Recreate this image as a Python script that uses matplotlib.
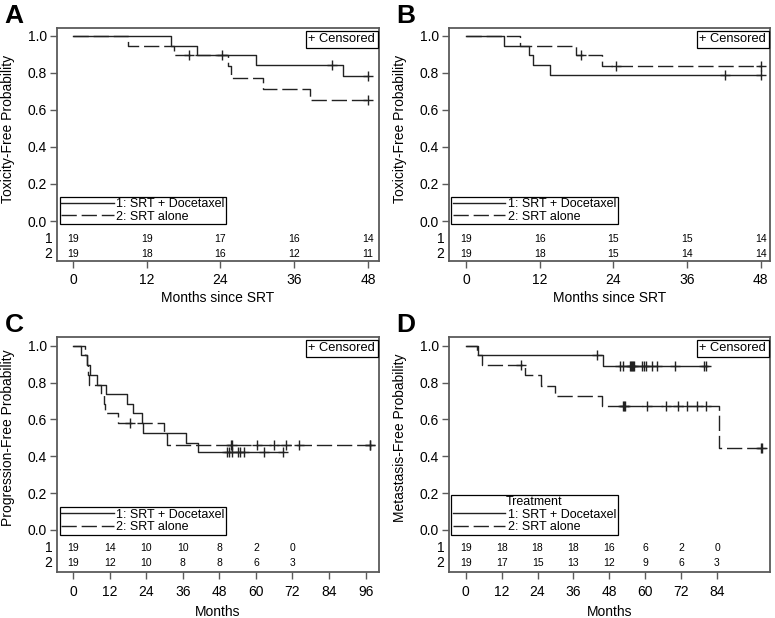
import numpy as np
import matplotlib
matplotlib.use("Agg")
import matplotlib.pyplot as plt

plt.rcParams['font.family'] = ['Liberation Sans', 'DejaVu Sans']

# ---- panel A : toxicity-free, months since SRT
a_t1 = [0, 16.0, 20.2, 29.8, 43.9]
a_s1 = [1.0, 0.947, 0.895, 0.842, 0.786]
a_c1 = [42.1, 48.0]
a_t2 = [0, 8.9, 16.4, 25.2, 25.8, 30.9, 38.6]
a_s2 = [1.0, 0.947, 0.895, 0.835, 0.775, 0.715, 0.655]
a_c2 = [18.9, 24.3, 48.0]
a_end = [48.0, 48.0]
a_risk_x = [0, 12, 24, 36, 48]
a_risk1 = [19, 19, 17, 16, 14]
a_risk2 = [19, 18, 16, 12, 11]

# ---- panel B : toxicity-free, months since SRT
b_t1 = [0, 6.2, 10.3, 11.0, 13.7]
b_s1 = [1.0, 0.947, 0.895, 0.842, 0.789]
b_c1 = [42.2, 48.0]
b_t2 = [0, 8.8, 18.0, 22.1]
b_s2 = [1.0, 0.947, 0.895, 0.838]
b_c2 = [18.8, 24.5, 48.0]
b_end = [48.0, 48.0]
b_risk_x = [0, 12, 24, 36, 48]
b_risk1 = [19, 16, 15, 15, 14]
b_risk2 = [19, 18, 15, 14, 14]

# ---- panel C : progression-free
c_t1 = [0, 2.5, 4.6, 5.4, 7.7, 10.7, 17.7, 19.7, 22.6, 23.1, 37.2, 41.0]
c_s1 = [1.0, 0.947, 0.895, 0.842, 0.789, 0.737, 0.684, 0.632, 0.579, 0.526, 0.474, 0.421]
c_c1 = [50.4, 51.3, 52.2, 54.0, 54.7, 56.1, 62.6, 69.0]
c_t2 = [0, 3.8, 4.4, 5.0, 5.3, 9.3, 10.0, 10.5, 14.8, 29.9, 30.9]
c_s2 = [1.0, 0.947, 0.895, 0.842, 0.789, 0.737, 0.684, 0.632, 0.579, 0.521, 0.463]
c_c2 = [18.6, 51.7, 52.3, 60.3, 65.9, 69.8, 74.1, 97.3, 97.6]
c_end = [69.0, 98.5]
c_risk_x = [0, 12, 24, 36, 48, 60, 72]
c_risk1 = [19, 14, 10, 10, 8, 2, 0]
c_risk2 = [19, 12, 10, 8, 8, 6, 3]

# ---- panel D : metastasis-free
d_t1 = [0, 4.0, 45.9]
d_s1 = [1.0, 0.947, 0.891]
d_c1 = [44.0, 51.6, 52.5, 55.0, 55.3, 55.6, 55.9, 56.3, 58.8, 59.6,
        60.3, 62.2, 63.9, 70.0, 79.7, 80.3]
d_t2 = [0, 3.8, 5.5, 19.7, 25.0, 29.8, 45.4, 84.5]
d_s2 = [1.0, 0.947, 0.895, 0.839, 0.783, 0.727, 0.671, 0.447]
d_c2 = [18.6, 52.6, 53.0, 53.4, 60.5, 66.9, 71.1, 74.1, 77.4, 80.3, 98.8, 99.1]
d_end = [80.8, 100.0]
d_risk_x = [0, 12, 24, 36, 48, 60, 72, 84]
d_risk1 = [19, 18, 18, 18, 16, 6, 2, 0]
d_risk2 = [19, 17, 15, 13, 12, 9, 6, 3]

group_names = ["1: SRT + Docetaxel", "2: SRT alone"]

LINE = '#222222'
FRAME = '#5a5a5a'
DASH = (0, (11, 3.5))


def surv_at(times, surv, t):
    i = np.searchsorted(times, t, side='right') - 1
    return np.array(surv)[i]


def km_panel(ax, curves, ends, risk_x, risk1, risk2, xlim, xticks, ylim,
             ylabel, xlabel, letter, xlab_y, leg_title=None):
    styles = ['-', DASH]
    handles = []
    for (t, s, c), end, ls in zip(curves, ends, styles):
        xs = list(t) + [end]
        ys = list(s) + [s[-1]]
        h, = ax.step(xs, ys, where='post', color=LINE, lw=1.0, linestyle=ls)
        handles.append(h)
        ax.plot(c, surv_at(t, s, c), linestyle='none', marker='+',
                ms=7, mew=1.0, color=LINE)

    for x, n1, n2 in zip(risk_x, risk1, risk2):
        ax.text(x, -0.097, str(n1), ha='center', va='center', fontsize=7.5)
        ax.text(x, -0.178, str(n2), ha='center', va='center', fontsize=7.5)
    ax.text(-0.014, -0.097, "1", transform=ax.get_yaxis_transform(),
            ha='right', va='center', fontsize=10)
    ax.text(-0.014, -0.178, "2", transform=ax.get_yaxis_transform(),
            ha='right', va='center', fontsize=10)

    ax.set_xlim(*xlim)
    ax.set_ylim(*ylim)
    ax.set_xticks(xticks)
    ax.set_yticks([0, 0.2, 0.4, 0.6, 0.8, 1.0])
    ax.set_yticklabels(["0.0", "0.2", "0.4", "0.6", "0.8", "1.0"])
    ax.tick_params(direction='out', length=5, width=1.0, color=FRAME,
                   labelsize=10)
    ax.tick_params(axis='x', pad=4)
    ax.tick_params(axis='y', pad=2)
    for sp in ax.spines.values():
        sp.set_color(FRAME)
        sp.set_linewidth(1.3)

    yc = (0.5 - ylim[0]) / (ylim[1] - ylim[0])
    ax.set_ylabel(ylabel, fontsize=10, va='center')
    ax.yaxis.set_label_coords(-0.152, yc)
    ax.set_xlabel(xlabel, fontsize=10, va='center')
    ax.xaxis.set_label_coords(0.5, xlab_y)

    leg = ax.legend(handles, group_names, loc='lower left',
                    bbox_to_anchor=(0.008, 0.158), borderaxespad=0,
                    fontsize=9, handlelength=4.2, handletextpad=0.2,
                    borderpad=0.12, labelspacing=0.05, fancybox=False,
                    edgecolor='black', framealpha=1, title=leg_title,
                    title_fontsize=9)
    leg.get_frame().set_linewidth(0.9)

    ax.text(0.988, 0.978, "+ Censored", transform=ax.transAxes, ha='right',
            va='top', fontsize=9.3,
            bbox=dict(boxstyle='square,pad=0.2', fc='white', ec='black', lw=0.9))

    ax.text(-0.163, 1.0, letter, transform=ax.transAxes, fontsize=19,
            fontweight='bold', ha='left', va='bottom')


fig = plt.figure(figsize=(7.75, 6.18), dpi=100)
ax_a = fig.add_axes([0.0735, 0.5777, 0.4155, 0.377])
ax_b = fig.add_axes([0.579, 0.5777, 0.4145, 0.377])
ax_c = fig.add_axes([0.0735, 0.0744, 0.4155, 0.3803])
ax_d = fig.add_axes([0.579, 0.0744, 0.4145, 0.3803])

km_panel(ax_a, [(a_t1, a_s1, a_c1), (a_t2, a_s2, a_c2)], a_end,
         a_risk_x, a_risk1, a_risk2, (-2.6, 49.8), a_risk_x, (-0.216, 1.043),
         "Toxicity-Free Probability", "Months since SRT", "A", -0.158)
km_panel(ax_b, [(b_t1, b_s1, b_c1), (b_t2, b_s2, b_c2)], b_end,
         b_risk_x, b_risk1, b_risk2, (-2.8, 49.5), b_risk_x, (-0.216, 1.043),
         "Toxicity-Free Probability", "Months since SRT", "B", -0.158)
km_panel(ax_c, [(c_t1, c_s1, c_c1), (c_t2, c_s2, c_c2)], c_end,
         c_risk_x, c_risk1, c_risk2, (-5.3, 100.4), [0, 12, 24, 36, 48, 60, 72, 84, 96],
         (-0.228, 1.047), "Progression-Free Probability", "Months", "C", -0.168)
km_panel(ax_d, [(d_t1, d_s1, d_c1), (d_t2, d_s2, d_c2)], d_end,
         d_risk_x, d_risk1, d_risk2, (-5.7, 101.7), d_risk_x, (-0.228, 1.047),
         "Metastasis-Free Probability", "Months", "D", -0.168,
         leg_title="Treatment")

fig.savefig("out.png", dpi=100)
